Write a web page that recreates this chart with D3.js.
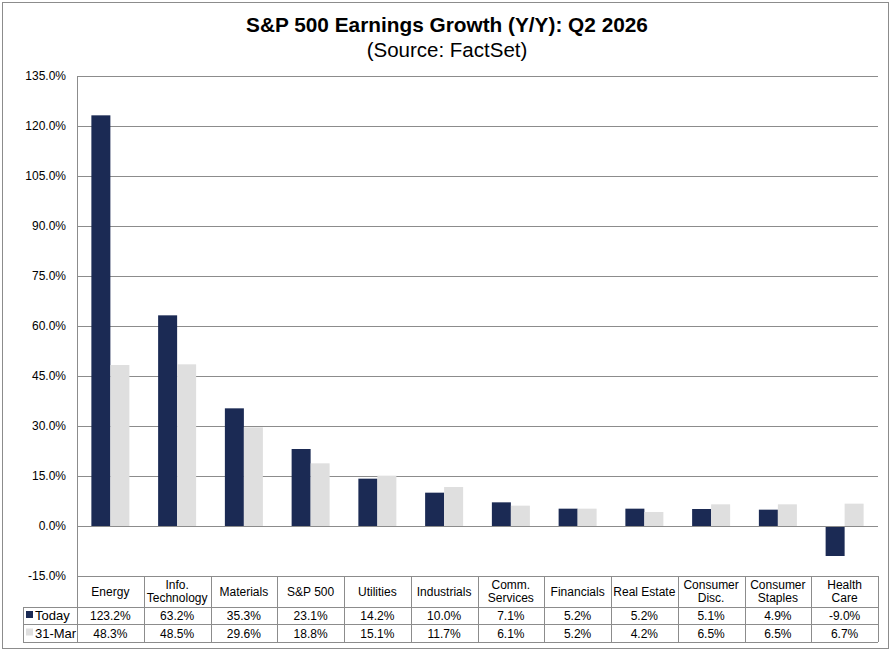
<!DOCTYPE html>
<html lang="en">
<head>
  <meta charset="UTF-8">
  <title>S&amp;P 500 Earnings Growth (Y/Y): Q2 2026</title>
  <script src="https://d3js.org/d3.v7.min.js"></script>
  <style>
    body { margin: 0; background: white; font-family: "Liberation Sans", Arial, sans-serif; }
    svg text { fill: #000; }
  </style>
</head>
<body>
  <div id="chart"></div>

  <script>
    // data
    const categories = ["Energy", "Info.\nTechnology", "Materials", "S&P 500", "Utilities", "Industrials",
      "Comm.\nServices", "Financials", "Real Estate", "Consumer\nDisc.", "Consumer\nStaples", "Health\nCare"];
    const today = [123.2, 63.2, 35.3, 23.1, 14.2, 10.0, 7.1, 5.2, 5.2, 5.1, 4.9, -9.0];
    const march31 = [48.3, 48.5, 29.6, 18.8, 15.1, 11.7, 6.1, 5.2, 4.2, 6.5, 6.5, 6.7];
    const seriesNames = ["Today", "31-Mar"];
    const yTicks = [-15, 0, 15, 30, 45, 60, 75, 90, 105, 120, 135];

    const colors = ["#1b2a54", "#dfdfdf"];
    const gridColor = "#8c8c8c";

    const width = 896, height = 650;
    const plotLeft = 77, plotRight = 878, plotTop = 76, plotBottom = 576;

    const svg = d3.select("#chart").append("svg")
      .attr("width", width)
      .attr("height", height);

    // outer frame
    svg.append("rect")
      .attr("x", 2.5).attr("y", 2.5)
      .attr("width", 886).attr("height", 646)
      .attr("fill", "white")
      .attr("stroke", gridColor);

    svg.append("text")
      .attr("x", 447).attr("y", 32)
      .attr("text-anchor", "middle")
      .style("font-size", "20.8px").style("font-weight", "bold")
      .text("S&P 500 Earnings Growth (Y/Y): Q2 2026");
    svg.append("text")
      .attr("x", 447).attr("y", 57)
      .attr("text-anchor", "middle")
      .style("font-size", "20.5px")
      .text("(Source: FactSet)");

    const y = d3.scaleLinear().domain([-15, 135]).range([plotBottom, plotTop]);
    const x = d3.scaleBand().domain(d3.range(categories.length)).range([plotLeft, plotRight]);
    const xs = d3.scaleBand().domain([0, 1]).range([0, 38]);

    // grid
    svg.append("g").selectAll("line").data(yTicks).join("line")
      .attr("x1", plotLeft).attr("x2", plotRight)
      .attr("y1", d => Math.round(y(d)) + 0.5).attr("y2", d => Math.round(y(d)) + 0.5)
      .attr("stroke", gridColor);

    svg.append("g").selectAll("text").data(yTicks).join("text")
      .attr("x", 66).attr("y", d => y(d) + 4)
      .attr("text-anchor", "end")
      .style("font-size", "12px")
      .text(d => d.toFixed(1) + "%");

    // bars
    const series = [today, march31];
    series.forEach((vals, s) => {
      svg.append("g").selectAll("rect").data(vals).join("rect")
        .attr("x", (d, i) => x(i) + (x.bandwidth() - 38) / 2 + xs(s))
        .attr("width", xs.bandwidth())
        .attr("y", d => y(Math.max(0, d)))
        .attr("height", d => Math.abs(y(d) - y(0)))
        .attr("fill", colors[s]);
    });

    // zero line
    svg.append("line")
      .attr("x1", plotLeft).attr("x2", plotRight)
      .attr("y1", Math.round(y(0)) + 0.5).attr("y2", Math.round(y(0)) + 0.5)
      .attr("stroke", gridColor);

    // left axis
    svg.append("line")
      .attr("x1", plotLeft + 0.5).attr("x2", plotLeft + 0.5)
      .attr("y1", plotTop).attr("y2", plotBottom)
      .attr("stroke", gridColor);

    // data table
    const rowTops = [576, 607, 624, 642];
    const legendLeft = 23;
    const tbl = svg.append("g").attr("stroke", gridColor).attr("fill", "none");
    tbl.append("line").attr("x1", plotLeft).attr("x2", plotRight).attr("y1", rowTops[0] + 0.5).attr("y2", rowTops[0] + 0.5);
    rowTops.slice(1).forEach(t => {
      tbl.append("line").attr("x1", legendLeft).attr("x2", plotRight).attr("y1", t + 0.5).attr("y2", t + 0.5);
    });
    d3.range(categories.length + 1).forEach(i => {
      const xx = Math.round(i < categories.length ? x(i) : plotRight) + 0.5;
      tbl.append("line").attr("x1", xx).attr("x2", xx).attr("y1", rowTops[0]).attr("y2", rowTops[3]);
    });
    tbl.append("line").attr("x1", legendLeft + 0.5).attr("x2", legendLeft + 0.5).attr("y1", rowTops[1]).attr("y2", rowTops[3]);

    // category labels
    categories.forEach((c, i) => {
      const lines = c.split("\n");
      const cx = x(i) + x.bandwidth() / 2;
      const cy = (rowTops[0] + rowTops[1]) / 2;
      lines.forEach((ln, k) => {
        svg.append("text")
          .attr("x", cx)
          .attr("y", cy + 4 + (k - (lines.length - 1) / 2) * 13)
          .attr("text-anchor", "middle")
          .style("font-size", "12px")
          .text(ln);
      });
    });

    // values + legend
    series.forEach((vals, s) => {
      const cy = (rowTops[s + 1] + rowTops[s + 2]) / 2 + 4.5;
      svg.append("rect")
        .attr("x", 26).attr("y", cy - 9)
        .attr("width", 7).attr("height", 7)
        .attr("fill", colors[s]);
      svg.append("text")
        .attr("x", 35).attr("y", cy)
        .style("font-size", "13px")
        .text(seriesNames[s]);
      svg.append("g").selectAll("text").data(vals).join("text")
        .attr("x", (d, i) => x(i) + x.bandwidth() / 2)
        .attr("y", cy)
        .attr("text-anchor", "middle")
        .style("font-size", "12px")
        .text(d => d.toFixed(1) + "%");
    });
  </script>
</body>
</html>
